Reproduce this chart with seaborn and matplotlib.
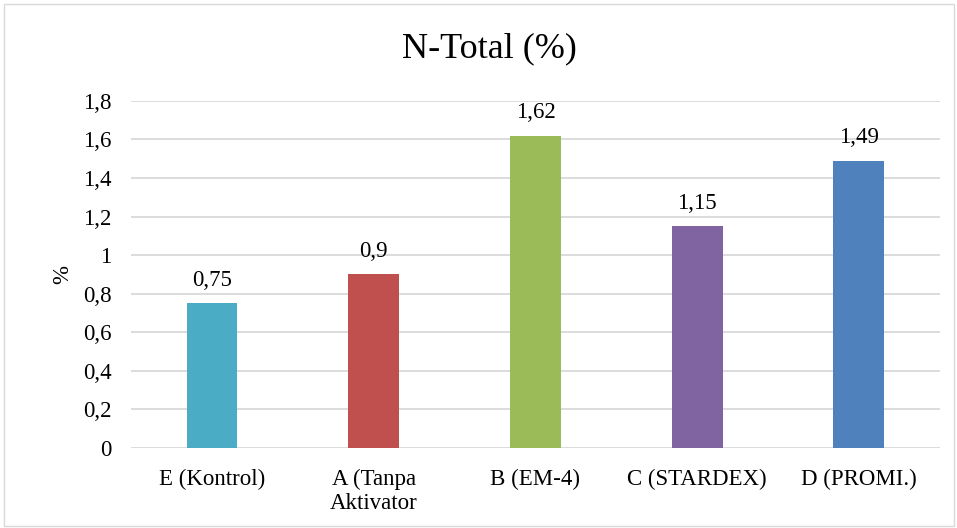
import numpy as np
import pandas as pd
import seaborn as sns
import matplotlib.pyplot as plt
from matplotlib.patches import Rectangle

# %% Data
categories = ['E (Kontrol)', 'A (Tanpa\nAktivator', 'B (EM-4)', 'C (STARDEX)', 'D (PROMI.)']
values = [0.75, 0.9, 1.62, 1.15, 1.49]
colors = ['#4BACC6', '#C0504D', '#9BBB59', '#8064A2', '#4F81BD']
y_ticks = [0, 0.2, 0.4, 0.6, 0.8, 1.0, 1.2, 1.4, 1.6, 1.8]

df = pd.DataFrame({'cat': categories, 'val': values})

# %% Plot
sns.set_style('white')
plt.rcParams['font.family'] = ['Liberation Serif', 'DejaVu Serif']
plt.rcParams['text.color'] = 'black'

fs = 16.5
fig = plt.figure(figsize=(9.57, 5.28), dpi=100)
ax = fig.add_axes([0.137, 0.1515, 0.845, 0.6575])

sns.barplot(data=df, x='cat', y='val', hue='cat', palette=colors,
            width=0.315, legend=False, ax=ax, saturation=1, linewidth=0)

ax.set_ylim(0, 1.8)
ax.set_xlim(-0.5, 4.5)
ax.set_yticks(y_ticks)
ax.set_yticklabels([('%g' % t).replace('.', ',') for t in y_ticks], fontsize=fs)
ax.tick_params(axis='x', labelsize=fs, length=0, pad=15, labelcolor='black')
ax.tick_params(axis='y', length=0, pad=14, labelcolor='black')
ax.yaxis.grid(True, color='#D9D9D9', linewidth=1.3)
ax.set_axisbelow(True)
for s in ax.spines.values():
    s.set_visible(False)

for i, v in enumerate(values):
    ax.annotate(('%g' % v).replace('.', ','), (i, v), xytext=(0, 9),
                textcoords='offset points', ha='center', va='bottom',
                fontsize=fs, color='black')

ax.set_xlabel('')
ax.set_ylabel('%', fontsize=fs, labelpad=7, color='black')
fig.text(0.511, 0.907, 'N-Total (%)', ha='center', va='center', fontsize=26,
         color='black')

fig.patches.append(Rectangle((0.004, 0.004), 0.993, 0.988, transform=fig.transFigure,
                             fill=False, edgecolor='#D9D9D9', linewidth=1))

fig.savefig('out.png', dpi=100)
